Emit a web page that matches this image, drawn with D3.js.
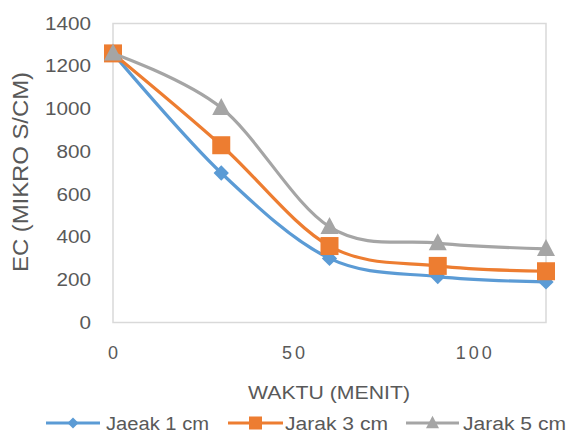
<!DOCTYPE html>
<html>
<head>
<meta charset="utf-8">
<script src="https://cdn.jsdelivr.net/npm/d3@7"></script>
<style>
  html, body { margin: 0; padding: 0; background: #fff; }
  svg { display: block; }
  text { font-family: "Liberation Sans", Arial, sans-serif; fill: #595959; }
</style>
</head>
<body>
<svg id="chart" width="568" height="433"></svg>
<script>
// Waktu pengukuran (menit)
const waktu = [0, 30, 60, 90, 120];
// Nilai EC (mikro S/cm) untuk tiap jarak
const jarak1 = [1260, 700, 300, 215, 190];
const jarak3 = [1260, 830, 358, 265, 240];
const jarak5 = [1260, 1005, 448, 372, 345];
const seriesNames = ["Jaeak 1 cm", "Jarak 3 cm", "Jarak 5 cm"];
const seriesColors = ["#5B9BD5", "#ED7D31", "#A5A5A5"];
const yTicks = [0, 200, 400, 600, 800, 1000, 1200, 1400];
const xTicks = [0, 50, 100];

const series = [jarak1, jarak3, jarak5].map((vals, i) => ({
  name: seriesNames[i],
  color: seriesColors[i],
  points: waktu.map((t, j) => ({ x: t, y: vals[j] }))
}));

const svg = d3.select("#chart");
const plot = { left: 113, right: 546, top: 23.5, bottom: 322.5 };

const x = d3.scaleLinear().domain([0, 120]).range([plot.left, plot.right]);
const y = d3.scaleLinear().domain([0, 1400]).range([plot.bottom, plot.top]);

// Plot area frame
svg.append("rect")
  .attr("x", plot.left).attr("y", plot.top)
  .attr("width", plot.right - plot.left).attr("height", plot.bottom - plot.top)
  .attr("fill", "none").attr("stroke", "#D9D9D9").attr("stroke-width", 1.5);

// Y axis labels
const yAxis = svg.append("g")
  .attr("transform", `translate(${plot.left},0)`)
  .call(d3.axisLeft(y).tickValues(yTicks).tickFormat(d3.format("d")).tickSize(0).tickPadding(22));
yAxis.select(".domain").remove();
yAxis.selectAll("text")
  .style("font-size", "18px")
  .style("fill", "#595959")
  .attr("textLength", d => String(d).length * 11.5)
  .attr("lengthAdjust", "spacingAndGlyphs");

// X axis labels
const xAxis = svg.append("g")
  .attr("transform", `translate(0,${plot.bottom})`)
  .call(d3.axisBottom(x).tickValues(xTicks).tickFormat(d3.format("d")).tickSize(0).tickPadding(24));
xAxis.select(".domain").remove();
xAxis.selectAll("text")
  .style("font-size", "18px")
  .style("fill", "#595959")
  .attr("dx", "1px")
  .style("letter-spacing", "3px");

// Axis titles
svg.append("text")
  .attr("x", 329).attr("y", 399)
  .attr("text-anchor", "middle")
  .style("font-size", "18px")
  .attr("textLength", 162).attr("lengthAdjust", "spacingAndGlyphs")
  .text("WAKTU (MENIT)");

svg.append("text")
  .attr("transform", "translate(28,172) rotate(-90)")
  .attr("text-anchor", "middle")
  .style("font-size", "22px")
  .attr("textLength", 200).attr("lengthAdjust", "spacingAndGlyphs")
  .text("EC (MIKRO S/CM)");

// Marker shapes; s = half-size of the marker
function drawMarker(g, idx, cx, cy, color, s) {
  if (idx === 0) {
    const h = s * 0.85;
    g.append("path")
      .attr("d", `M${cx},${cy - h}L${cx + h},${cy}L${cx},${cy + h}L${cx - h},${cy}Z`)
      .attr("fill", color);
  } else if (idx === 1) {
    g.append("rect")
      .attr("x", cx - s).attr("y", cy - s)
      .attr("width", 2 * s).attr("height", 2 * s)
      .attr("fill", color);
  } else {
    g.append("path")
      .attr("d", `M${cx},${cy - s * 1.1}L${cx + s},${cy + s * 0.8}L${cx - s},${cy + s * 0.8}Z`)
      .attr("fill", color);
  }
}

// Smoothed lines
const line = d3.line()
  .x(d => x(d.x))
  .y(d => y(d.y))
  .curve(d3.curveCardinal);

series.forEach((s, i) => {
  const g = svg.append("g");
  g.append("path")
    .datum(s.points)
    .attr("d", line)
    .attr("fill", "none")
    .attr("stroke", s.color)
    .attr("stroke-width", 3.2)
    .attr("stroke-linecap", "round");
  s.points.forEach(p => drawMarker(g, i, x(p.x), y(p.y), s.color, 9));
});

// Legend
const legendItems = [
  { x1: 46, x2: 100, tx: 106 },
  { x1: 228, x2: 283, tx: 285 },
  { x1: 406, x2: 459, tx: 463 }
];
const ly = 423;
series.forEach((s, i) => {
  const it = legendItems[i];
  const g = svg.append("g");
  g.append("line")
    .attr("x1", it.x1).attr("x2", it.x2)
    .attr("y1", ly).attr("y2", ly)
    .attr("stroke", s.color).attr("stroke-width", 3.2);
  drawMarker(g, i, (it.x1 + it.x2) / 2, ly, s.color, 6.5);
  g.append("text")
    .attr("x", it.tx).attr("y", ly + 7)
    .style("font-size", "18px")
    .attr("textLength", 103).attr("lengthAdjust", "spacingAndGlyphs")
    .text(s.name);
});
</script>
</body>
</html>
